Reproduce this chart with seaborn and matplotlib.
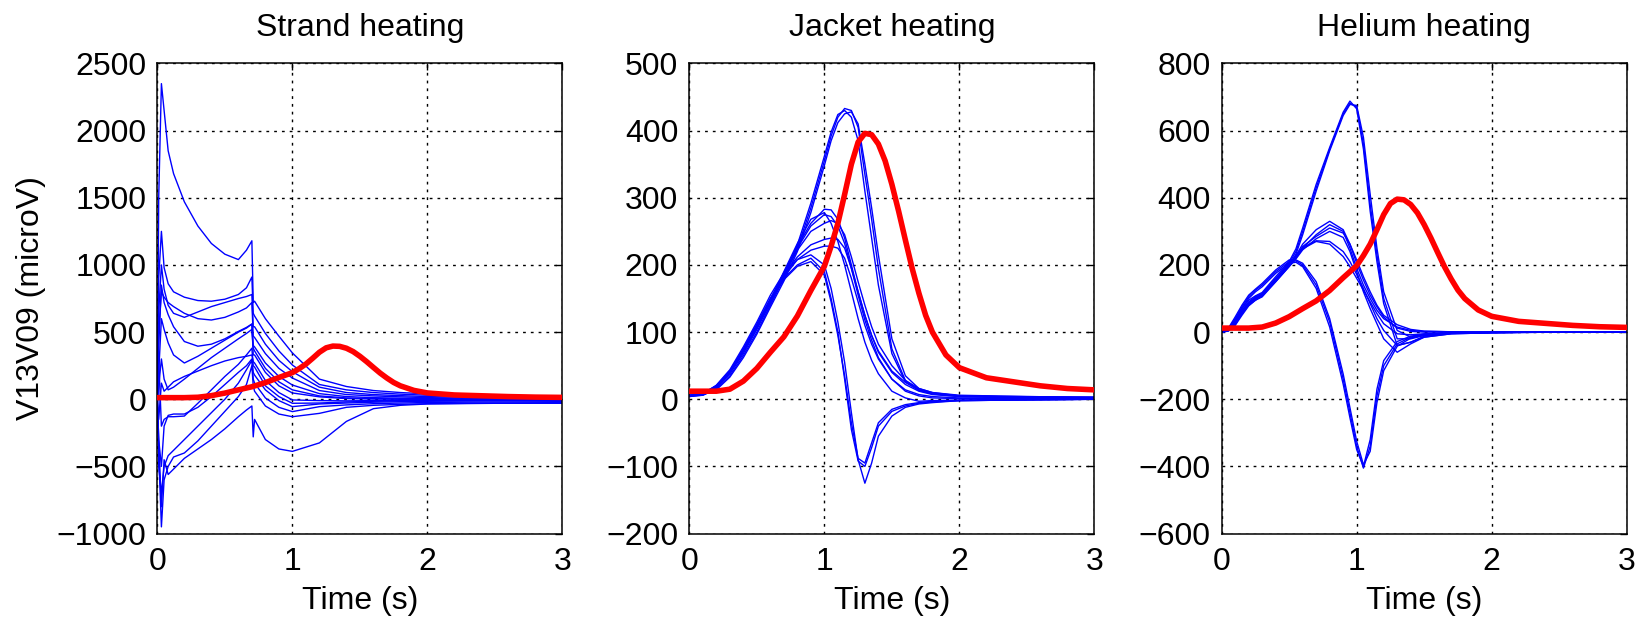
import matplotlib
matplotlib.use("Agg")
import matplotlib.pyplot as plt
import pandas as pd
import seaborn as sns

# ---------------- data ----------------
titles = ["Strand heating", "Jacket heating", "Helium heating"]
y_label = "V13V09 (microV)"
x_label = "Time (s)"
x_ticks = [0, 1, 2, 3]
strand_yticks = [-1000, -500, 0, 500, 1000, 1500, 2000, 2500]
jacket_yticks = [-200, -100, 0, 100, 200, 300, 400, 500]
helium_yticks = [-600, -400, -200, 0, 200, 400, 600, 800]

# reference (red) trace, same in all panels
red_t = [0, 0.1, 0.2, 0.3, 0.4, 0.5, 0.6, 0.7, 0.8, 0.9, 1.0, 1.05, 1.1, 1.15,
         1.2, 1.25, 1.3, 1.35, 1.4, 1.45, 1.5, 1.55, 1.6, 1.65, 1.7, 1.75, 1.8,
         1.9, 2.0, 2.2, 2.4, 2.6, 2.8, 3.0]
red_v = [12, 12, 12, 15, 27, 46, 70, 93, 124, 162, 198, 228, 262, 305,
         350, 383, 396, 394, 380, 355, 320, 280, 237, 195, 158, 125, 100,
         66, 47, 32, 26, 20, 16, 14]

# Strand heating traces
strand_t = [0, 0.01, 0.03, 0.05, 0.08, 0.12, 0.2, 0.3, 0.4, 0.5, 0.6, 0.66, 0.70,
            0.71, 0.72, 0.8, 0.9, 1.0, 1.2, 1.4, 1.6, 1.8, 2.0, 2.5, 3.0]
strand_1 = [0, 1500, 2350, 2150, 1850, 1680, 1470, 1290, 1160, 1080, 1040, 1110, 1180,
            720, 730, 600, 470, 345, 150, 95, 65, 50, 40, 28, 22]
strand_2 = [0, 900, 1250, 980, 860, 800, 760, 735, 730, 745, 780, 830, 910,
            640, 620, 490, 360, 255, 110, 70, 50, 38, 30, 20, 15]
strand_3 = [0, 650, 1000, 820, 700, 640, 610, 650, 690, 720, 750, 765, 780,
            540, 540, 410, 290, 205, 90, 50, 35, 27, 20, 12, 10]
strand_4 = [0, 500, 800, 760, 720, 690, 640, 600, 590, 610, 650, 680, 720,
            470, 460, 340, 230, 158, 65, 35, 25, 18, 12, 6, 5]
strand_5 = [0, 400, 850, 720, 630, 540, 430, 395, 410, 450, 505, 535, 560,
            400, 390, 270, 170, 106, 42, 20, 12, 8, 5, 2, 0]
strand_6 = [0, 200, 600, 520, 420, 330, 270, 320, 380, 440, 500, 530, 560,
            330, 330, 200, 100, 47, 18, 5, 2, 0, -2, -3, -2]
strand_7 = [0, -150, 120, 60, 90, 130, 170, 210, 250, 285, 310, 320, 330,
            280, 270, 140, 50, -5, -10, -12, -10, -8, -8, -6, -5]
strand_8 = [0, -300, -500, -200, -120, -110, -110, -60, 20, 110, 200, 250, 300,
            200, 180, 70, -10, -55, -35, -28, -22, -18, -15, -12, -10]
strand_9 = [0, -500, -700, -500, -420, -380, -300, -200, -100, 0, 120, 220, 290,
            150, 120, 10, -60, -92, -55, -42, -33, -28, -24, -20, -18]
strand_10 = [0, -400, -950, -600, -500, -430, -400, -310, -200, -90, 20, 110, 250,
             100, 60, -50, -110, -130, -105, -60, -45, -38, -33, -28, -25]
strand_11 = [0, -300, -800, -450, -560, -520, -440, -370, -300, -220, -130, -80, -50,
             -280, -150, -300, -370, -388, -325, -165, -70, -45, -35, -30, -30]
strand_12 = [0, 300, -200, -150, -130, -130, -125, -30, 70, 170, 260, 330, 380,
             250, 240, 100, 20, -30, -28, -20, -15, -12, -10, -8, -6]
strand_13 = [0, 100, 300, 150, 70, 90, 150, 230, 310, 380, 450, 490, 520,
             380, 360, 230, 130, 70, 25, 10, 5, 2, 0, -1, -1]

# Jacket heating traces
jacket_t = [0, 0.1, 0.2, 0.3, 0.4, 0.5, 0.6, 0.7, 0.8, 0.9, 1.0, 1.05, 1.1, 1.15,
            1.2, 1.25, 1.3, 1.35, 1.4, 1.5, 1.6, 1.7, 1.8, 2.0, 2.5, 3.0]
jacket_1 = [5, 6, 15, 35, 65, 100, 140, 180, 225, 285, 355, 392, 420, 433,
            430, 405, 335, 268, 195, 75, 28, 14, 9, 5, 4, 3]
jacket_2 = [4, 6, 17, 38, 68, 104, 143, 184, 230, 292, 362, 398, 424, 430,
            420, 385, 310, 240, 170, 68, 26, 13, 8, 5, 3, 3]
jacket_3 = [6, 7, 14, 33, 62, 97, 137, 176, 220, 278, 348, 385, 412, 425,
            428, 410, 350, 285, 215, 90, 35, 16, 10, 6, 4, 3]
jacket_4 = [5, 8, 18, 40, 72, 108, 148, 188, 228, 262, 283, 282, 268, 240,
            200, 160, 125, 95, 72, 42, 25, 14, 8, 4, 2, 2]
jacket_5 = [5, 8, 18, 40, 72, 108, 146, 185, 222, 250, 262, 266, 262, 245,
            212, 175, 140, 108, 82, 50, 28, 16, 10, 5, 3, 2]
jacket_6 = [6, 9, 20, 42, 74, 110, 150, 185, 212, 230, 238, 240, 238, 225,
            195, 160, 125, 95, 70, 40, 22, 12, 7, 4, 2, 2]
jacket_7 = [5, 8, 19, 41, 73, 109, 147, 182, 208, 222, 228, 228, 225, 210,
            180, 145, 110, 82, 60, 30, 14, 7, 4, 2, 1, 1]
jacket_8 = [4, 7, 17, 39, 71, 106, 145, 186, 225, 258, 275, 272, 258, 232,
            195, 155, 118, 88, 62, 30, 12, 5, 2, 1, 1, 1]
jacket_9 = [5, 8, 18, 40, 72, 108, 148, 190, 232, 268, 278, 262, 235, 200,
            160, 120, 85, 58, 38, 12, 2, -3, -2, -1, 0, 0]
jacket_10 = [5, 8, 20, 42, 75, 112, 150, 180, 200, 210, 190, 150, 100, 30,
             -45, -92, -100, -72, -40, -18, -10, -6, -4, -2, -1, 0]
jacket_11 = [5, 8, 21, 44, 78, 115, 155, 188, 208, 215, 200, 165, 115, 55,
             -20, -90, -125, -95, -55, -25, -12, -7, -5, -2, -1, 0]
jacket_12 = [6, 9, 19, 41, 74, 110, 148, 178, 198, 205, 185, 145, 95, 35,
             -35, -88, -95, -65, -35, -15, -8, -5, -3, -2, -1, 0]

# Helium heating traces
helium_t = [0, 0.05, 0.1, 0.15, 0.2, 0.25, 0.3, 0.4, 0.5, 0.55, 0.6, 0.7, 0.8, 0.9,
            0.95, 1.0, 1.05, 1.1, 1.15, 1.2, 1.3, 1.4, 1.5, 1.7, 2.0, 2.5, 3.0]
helium_1 = [0, 5, 30, 65, 90, 105, 115, 160, 205, 240, 300, 430, 545, 650,
            682, 670, 560, 380, 230, 100, -20, -20, -10, -3, -1, 0, 0]
helium_2 = [0, 3, 22, 55, 82, 100, 112, 155, 200, 232, 290, 420, 540, 645,
            678, 675, 580, 410, 250, 120, 5, -15, -8, -3, -1, 0, 0]
helium_3 = [0, 8, 35, 70, 95, 108, 118, 165, 210, 248, 310, 440, 550, 655,
            688, 665, 545, 360, 210, 85, -40, -30, -12, -4, -1, 0, 0]
helium_4 = [0, 10, 40, 75, 105, 125, 140, 180, 210, 212, 200, 140, 30, -140,
            -240, -340, -405, -340, -190, -100, -35, -15, -8, -3, -1, 0, 0]
helium_5 = [0, 8, 35, 70, 100, 120, 135, 175, 205, 208, 195, 130, 15, -155,
            -255, -350, -400, -320, -170, -85, -28, -12, -6, -2, -1, 0, 0]
helium_6 = [0, 12, 45, 80, 110, 128, 145, 185, 215, 215, 205, 150, 40, -125,
            -225, -325, -395, -355, -210, -115, -42, -18, -9, -3, -1, 0, 0]
helium_7 = [0, 5, 25, 55, 80, 95, 105, 150, 195, 220, 250, 290, 320, 300,
            250, 190, 140, 100, 65, 40, 15, 5, 2, 1, 0, 0, 0]
helium_8 = [0, 4, 20, 50, 78, 95, 108, 155, 200, 228, 262, 305, 330, 305,
            262, 205, 155, 110, 75, 45, 12, 2, 0, 0, 0, 0, 0]
helium_9 = [0, 6, 28, 60, 85, 100, 110, 152, 198, 222, 248, 270, 262, 225,
            195, 160, 125, 90, 55, 25, -5, -8, -5, -2, -1, 0, 0]
helium_10 = [0, 7, 30, 62, 88, 103, 112, 158, 202, 226, 252, 272, 270, 240,
             210, 172, 130, 85, 40, 5, -40, -30, -15, -5, -2, 0, 0]
helium_11 = [0, 5, 24, 56, 82, 97, 108, 150, 196, 218, 245, 278, 300, 282,
             240, 180, 120, 70, 25, -20, -60, -35, -15, -5, -2, 0, 0]
helium_12 = [0, 6, 26, 58, 84, 99, 109, 154, 199, 224, 255, 285, 310, 295,
             262, 215, 165, 120, 80, 50, 22, 8, 3, 1, 0, 0, 0]

strand_curves = [strand_1, strand_2, strand_3, strand_4, strand_5, strand_6, strand_7,
                 strand_8, strand_9, strand_10, strand_11, strand_12, strand_13]
jacket_curves = [jacket_1, jacket_2, jacket_3, jacket_4, jacket_5, jacket_6,
                 jacket_7, jacket_8, jacket_9, jacket_10, jacket_11, jacket_12]
helium_curves = [helium_1, helium_2, helium_3, helium_4, helium_5, helium_6,
                 helium_7, helium_8, helium_9, helium_10, helium_11, helium_12]

# ---------------- styling ----------------
sns.set_theme(style="white")
plt.rcParams['font.family'] = ['Liberation Sans', 'DejaVu Sans']
FS = 23

fig = plt.figure(figsize=(16.46, 6.2), dpi=100)
fig.patch.set_facecolor("white")

W, H, B = 0.2461, 0.7582, 0.1394
lefts = [0.0956, 0.4188, 0.7422]

panels = [
    (strand_t, strand_curves, strand_yticks),
    (jacket_t, jacket_curves, jacket_yticks),
    (helium_t, helium_curves, helium_yticks),
]

red_df = pd.DataFrame({"t": red_t, "v": red_v})

for i, (times, curves, yticks) in enumerate(panels):
    ax = fig.add_axes([lefts[i], B, W, H])
    rows = []
    for k, c in enumerate(curves):
        for t, v in zip(times, c):
            rows.append({"curve": k, "t": t, "v": v})
    df = pd.DataFrame(rows)
    sns.lineplot(data=df, x="t", y="v", units="curve", estimator=None,
                 color="#0000ff", linewidth=1.0, ax=ax, legend=False, sort=False,
                 zorder=2)
    sns.lineplot(data=red_df, x="t", y="v", estimator=None, color="#ff0000",
                 linewidth=4.0, ax=ax, legend=False, sort=False, zorder=3)

    ax.set_xlim(0, 3)
    ax.set_ylim(yticks[0], yticks[-1])
    ax.set_xticks(x_ticks)
    ax.set_yticks(yticks)
    ax.set_xticklabels([str(x) for x in x_ticks])
    ax.set_yticklabels([str(y).replace("-", "\u2212") for y in yticks])
    ax.tick_params(direction="in", length=5, width=1.0, top=True, right=True,
                   labelsize=FS, colors="black", pad=8)
    ax.tick_params(axis="x", pad=10)
    ax.grid(True, color="black", linestyle=(0, (2, 3.6)), linewidth=1.0)
    ax.set_axisbelow(True)
    for s in ax.spines.values():
        s.set_color("black")
        s.set_linewidth(1.1)
    ax.set_title(titles[i], fontsize=FS, pad=20, color="black")
    ax.set_xlabel(x_label, fontsize=FS, labelpad=6, color="black")
    if i == 0:
        ax.set_ylabel(y_label, fontsize=FS, color="black")
        ax.yaxis.set_label_coords(-0.275, 0.5)
    else:
        ax.set_ylabel("")

fig.savefig("out.png", dpi=100, facecolor="white")
